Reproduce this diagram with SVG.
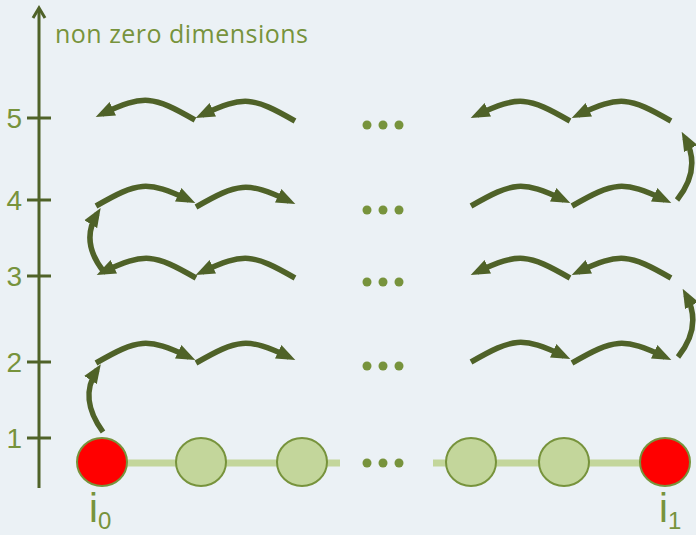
<svg xmlns="http://www.w3.org/2000/svg" xmlns:xlink="http://www.w3.org/1999/xlink" width="696" height="535" viewBox="0 0 696 535">
<style>
.lbl{font-family:"Liberation Sans",Arial,sans-serif;fill:#77933C}
.ttl{font-family:"Open Sans","Liberation Sans",sans-serif;fill:#77933C}
.arr{fill:none;stroke:#4F6228;stroke-width:5.5;marker-end:url(#ah)}
.axis{stroke:#4F6228;stroke-width:3;fill:none}
.node{fill:#C3D69B;stroke:#77933C;stroke-width:2}
.end{fill:#FF0000;stroke:#77933C;stroke-width:2}
.dot{fill:#77933C}
.link{stroke:#C3D69B;stroke-width:7}
</style>
<defs>
<marker id="ah" markerUnits="userSpaceOnUse" markerWidth="19" markerHeight="16" refX="12" refY="7.5" orient="auto" viewBox="0 0 19 15">
<path d="M0,0 L19,7.5 L0,15 z" fill="#4F6228"/>
</marker>
<path id="hr" class="arr" d="M0,0 C42,-24 51,-26 93,-6"/>
</defs>
<rect width="696" height="535" fill="#EBF1F5"/>
<g id="axis">
<line class="axis" x1="39" y1="488" x2="39" y2="9"/>
<polyline class="axis" points="33,18 39,8 45,18"/>
<line class="axis" x1="27" y1="118" x2="51" y2="118"/>
<line class="axis" x1="27" y1="200" x2="51" y2="200"/>
<line class="axis" x1="27" y1="276" x2="51" y2="276"/>
<line class="axis" x1="27" y1="362" x2="51" y2="362"/>
<line class="axis" x1="27" y1="438" x2="51" y2="438"/>
<text class="lbl" x="22" y="128" font-size="28" text-anchor="end">5</text>
<text class="lbl" x="22" y="210" font-size="28" text-anchor="end">4</text>
<text class="lbl" x="22" y="286" font-size="28" text-anchor="end">3</text>
<text class="lbl" x="22" y="372" font-size="28" text-anchor="end">2</text>
<text class="lbl" x="22" y="448" font-size="28" text-anchor="end">1</text>
<text class="ttl" x="55" y="43" font-size="25" textLength="253">non zero dimensions</text>
</g>
<g id="links">
<line class="link" x1="110" y1="463" x2="340" y2="463"/>
<line class="link" x1="433" y1="463" x2="655" y2="463"/>
</g>
<g id="nodes">
<g id="n0"><ellipse class="end" cx="102" cy="462" rx="25" ry="24"/></g>
<g id="n1"><ellipse class="node" cx="201" cy="462" rx="25" ry="24"/></g>
<g id="n2"><ellipse class="node" cx="302" cy="462" rx="25" ry="24"/></g>
<g id="n3"><ellipse class="node" cx="471" cy="462" rx="25" ry="24"/></g>
<g id="n4"><ellipse class="node" cx="564" cy="462" rx="25" ry="24"/></g>
<g id="n5"><ellipse class="end" cx="665" cy="462" rx="25" ry="24"/></g>
</g>
<g id="ellipses">
<circle class="dot" cx="367" cy="125" r="4.5"/><circle class="dot" cx="383" cy="125" r="4.5"/><circle class="dot" cx="399" cy="125" r="4.5"/>
<circle class="dot" cx="367" cy="210" r="4.5"/><circle class="dot" cx="383" cy="210" r="4.5"/><circle class="dot" cx="399" cy="210" r="4.5"/>
<circle class="dot" cx="367" cy="282" r="4.5"/><circle class="dot" cx="383" cy="282" r="4.5"/><circle class="dot" cx="399" cy="282" r="4.5"/>
<circle class="dot" cx="367" cy="366" r="4.5"/><circle class="dot" cx="383" cy="366" r="4.5"/><circle class="dot" cx="399" cy="366" r="4.5"/>
<circle class="dot" cx="367" cy="463" r="4.5"/><circle class="dot" cx="383" cy="463" r="4.5"/><circle class="dot" cx="399" cy="463" r="4.5"/>
</g>
<g id="labels">
<text class="lbl" x="89" y="522" font-size="40">i</text>
<text class="lbl" x="98" y="529" font-size="24">0</text>
<text class="lbl" x="659" y="522" font-size="40">i</text>
<text class="lbl" x="668" y="529" font-size="24">1</text>
</g>
<g id="connectors">
<use xlink:href="#hr" transform="translate(295,121) scale(-1,1)"/>
<use xlink:href="#hr" transform="translate(195,120) scale(-1,1)"/>
<use xlink:href="#hr" transform="translate(671,121) scale(-1,1)"/>
<use xlink:href="#hr" transform="translate(570,121) scale(-1,1)"/>
<use xlink:href="#hr" transform="translate(96,206)"/>
<use xlink:href="#hr" transform="translate(196,207)"/>
<use xlink:href="#hr" transform="translate(471,206)"/>
<use xlink:href="#hr" transform="translate(572,206)"/>
<use xlink:href="#hr" transform="translate(295,278) scale(-1,1)"/>
<use xlink:href="#hr" transform="translate(196,278) scale(-1,1)"/>
<use xlink:href="#hr" transform="translate(671,278) scale(-1,1)"/>
<use xlink:href="#hr" transform="translate(570,278) scale(-1,1)"/>
<use xlink:href="#hr" transform="translate(96,363)"/>
<use xlink:href="#hr" transform="translate(196,363)"/>
<use xlink:href="#hr" transform="translate(471,362)"/>
<use xlink:href="#hr" transform="translate(572,363)"/>
<path class="arr" d="M103,432 C87,410 84,390 97,370"/>
<path class="arr" d="M104,272 C88,252 86,232 97,214"/>
<path class="arr" d="M677,200 C693,180 697,160 685,138"/>
<path class="arr" d="M678,357 C694,337 698,317 686,295"/>
</g>
</svg>
